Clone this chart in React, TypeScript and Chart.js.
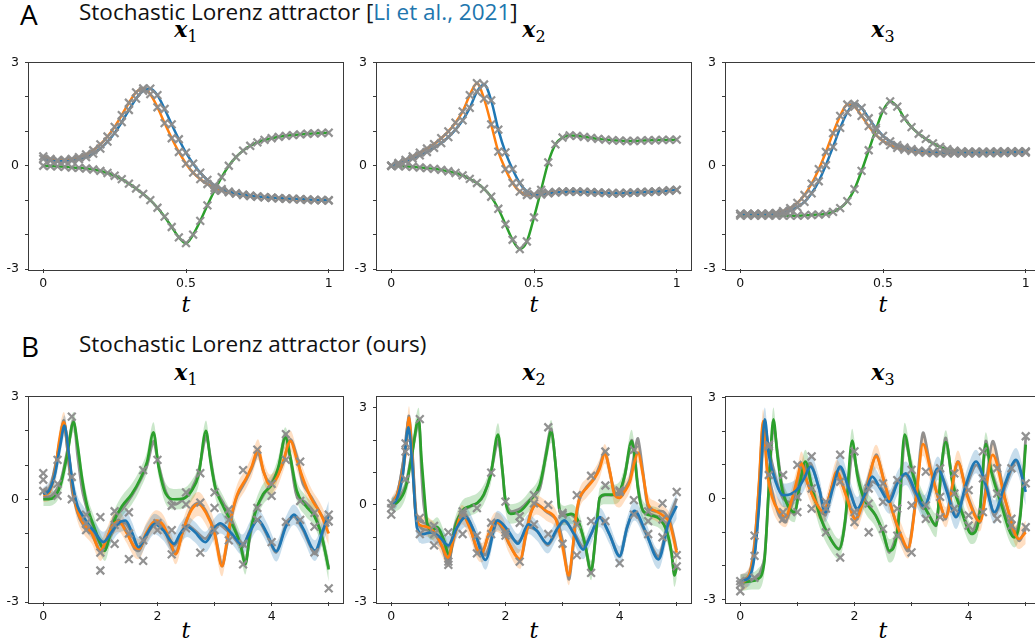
import React, { useEffect, useRef } from 'react';
import { Chart, registerables } from 'chart.js';

Chart.register(...registerables);

const BLUE = '#1f77b4';
const ORANGE = '#ff7f0e';
const GREEN = '#2ca02c';
const BAND: Record<string, string> = {
  [BLUE]: 'rgba(31,119,180,0.25)',
  [ORANGE]: 'rgba(255,127,14,0.25)',
  [GREEN]: 'rgba(44,160,44,0.25)',
};
const GRAY_LINE = 'rgba(128,128,128,0.85)';
const GRAY_MARK = 'rgba(140,140,140,0.95)';
const AXIS = '#3a3a3a';

// ---------- Row A: Li et al., 2021 (t in [0,1]) ----------
const tA = [0, 0.025, 0.05, 0.075, 0.1, 0.125, 0.15, 0.175, 0.2, 0.225, 0.25, 0.275, 0.3, 0.325, 0.35, 0.375, 0.4, 0.425, 0.45, 0.475, 0.5, 0.525, 0.55, 0.575, 0.6, 0.625, 0.65, 0.675, 0.7, 0.725, 0.75, 0.775, 0.8, 0.825, 0.85, 0.875, 0.9, 0.925, 0.95, 0.975, 1];

const A1_blue = [0.2, 0.15, 0.13, 0.13, 0.15, 0.19, 0.25, 0.35, 0.5, 0.7, 0.95, 1.27, 1.62, 1.95, 2.18, 2.24, 2.05, 1.65, 1.2, 0.77, 0.38, 0.06, -0.2, -0.41, -0.57, -0.68, -0.75, -0.8, -0.84, -0.87, -0.89, -0.91, -0.93, -0.94, -0.95, -0.96, -0.97, -0.98, -0.99, -1.0, -1.0];
const A1_orange = [0.27, 0.2, 0.16, 0.17, 0.2, 0.25, 0.33, 0.45, 0.62, 0.85, 1.13, 1.47, 1.83, 2.13, 2.25, 2.08, 1.7, 1.24, 0.8, 0.4, 0.06, -0.2, -0.39, -0.53, -0.64, -0.72, -0.77, -0.81, -0.85, -0.88, -0.9, -0.92, -0.93, -0.95, -0.96, -0.97, -0.98, -0.99, -1.0, -1.0, -1.01];
const A1_green = [0, -0.01, -0.02, -0.03, -0.05, -0.06, -0.08, -0.11, -0.15, -0.21, -0.29, -0.39, -0.52, -0.66, -0.82, -1.0, -1.22, -1.48, -1.78, -2.08, -2.25, -2.0, -1.6, -1.15, -0.72, -0.33, 0.0, 0.25, 0.44, 0.58, 0.68, 0.75, 0.8, 0.84, 0.87, 0.89, 0.91, 0.93, 0.94, 0.95, 0.96];

const A2_blue = [0, 0.06, 0.13, 0.21, 0.3, 0.4, 0.52, 0.66, 0.83, 1.05, 1.32, 1.68, 2.15, 2.36, 1.9, 1.05, 0.39, -0.1, -0.5, -0.75, -0.85, -0.84, -0.8, -0.78, -0.76, -0.75, -0.75, -0.76, -0.77, -0.78, -0.79, -0.8, -0.8, -0.79, -0.78, -0.77, -0.76, -0.75, -0.74, -0.72, -0.7];
const A2_orange = [0, 0.08, 0.17, 0.27, 0.38, 0.5, 0.63, 0.8, 1.0, 1.25, 1.58, 2.05, 2.4, 1.95, 1.2, 0.41, -0.1, -0.5, -0.75, -0.85, -0.83, -0.8, -0.78, -0.76, -0.75, -0.75, -0.75, -0.76, -0.77, -0.78, -0.79, -0.8, -0.8, -0.79, -0.78, -0.77, -0.76, -0.75, -0.74, -0.72, -0.7];
const A2_green = [0, -0.01, -0.02, -0.03, -0.05, -0.07, -0.09, -0.12, -0.16, -0.21, -0.28, -0.38, -0.5, -0.67, -0.9, -1.25, -1.7, -2.15, -2.42, -2.2, -1.5, -0.7, 0.1, 0.62, 0.82, 0.88, 0.87, 0.84, 0.81, 0.78, 0.76, 0.74, 0.73, 0.72, 0.72, 0.73, 0.74, 0.74, 0.75, 0.75, 0.76];

const A3_blue = [-1.4, -1.4, -1.4, -1.4, -1.4, -1.39, -1.36, -1.3, -1.2, -1.05, -0.8, -0.45, 0.02, 0.55, 1.1, 1.55, 1.8, 1.68, 1.38, 1.1, 0.87, 0.71, 0.6, 0.53, 0.48, 0.44, 0.42, 0.4, 0.39, 0.38, 0.38, 0.38, 0.38, 0.38, 0.38, 0.38, 0.38, 0.38, 0.39, 0.39, 0.4];
const A3_orange = [-1.4, -1.4, -1.4, -1.4, -1.39, -1.37, -1.32, -1.23, -1.08, -0.85, -0.52, -0.1, 0.4, 0.95, 1.45, 1.78, 1.72, 1.45, 1.15, 0.9, 0.72, 0.6, 0.52, 0.47, 0.43, 0.4, 0.38, 0.37, 0.36, 0.36, 0.36, 0.36, 0.36, 0.36, 0.36, 0.37, 0.37, 0.37, 0.38, 0.38, 0.38];
const A3_green = [-1.45, -1.45, -1.45, -1.45, -1.45, -1.45, -1.45, -1.45, -1.45, -1.44, -1.43, -1.42, -1.4, -1.34, -1.23, -1.03, -0.68, -0.15, 0.45, 1.05, 1.6, 1.87, 1.72, 1.38, 1.12, 0.93, 0.78, 0.65, 0.55, 0.48, 0.44, 0.42, 0.41, 0.41, 0.41, 0.41, 0.42, 0.42, 0.42, 0.42, 0.42];

// ---------- Row B: ours (t in [0,5]) ----------
// each point: [t, mean, std, true path]
const B1_blue = [[0, 0.15, 0.2, 0.3], [0.1, 0.25, 0.25, 0.2], [0.2, 0.7, 0.3, 0.9], [0.3, 1.6, 0.3, 1.7], [0.37, 2.15, 0.3, 2.2], [0.45, 1.3, 0.3, 1.0], [0.52, 0.4, 0.3, 0.1], [0.6, -0.2, 0.3, -0.3], [0.7, -0.5, 0.3, -0.6], [0.8, -0.75, 0.3, -0.8], [0.9, -0.95, 0.3, -1.0], [1.05, -1.25, 0.3, -1.4], [1.2, -0.95, 0.3, -1.0], [1.3, -0.72, 0.3, -0.75], [1.44, -0.62, 0.3, -0.7], [1.55, -0.95, 0.3, -1.0], [1.67, -1.4, 0.3, -1.45], [1.8, -1.05, 0.3, -1.1], [1.95, -0.72, 0.3, -0.7], [2.1, -0.9, 0.3, -0.85], [2.29, -1.3, 0.3, -1.35], [2.4, -1.0, 0.3, -1.1], [2.52, -0.8, 0.3, -0.75], [2.65, -0.95, 0.3, -0.9], [2.84, -1.25, 0.3, -1.15], [3.0, -0.85, 0.3, -0.8], [3.1, -0.7, 0.3, -0.75], [3.3, -1.0, 0.3, -1.05], [3.49, -1.33, 0.3, -1.4], [3.62, -0.95, 0.3, -0.9], [3.76, -0.6, 0.3, -0.6], [3.92, -1.0, 0.3, -1.05], [4.08, -1.52, 0.3, -1.55], [4.25, -0.8, 0.3, -0.75], [4.39, -0.45, 0.3, -0.5], [4.55, -0.85, 0.3, -0.9], [4.76, -1.5, 0.3, -1.6], [4.9, -0.9, 0.35, -0.95], [5.0, -0.45, 0.4, -0.5]];
const B1_orange = [[0, 0.12, 0.2, 0.2], [0.1, 0.2, 0.25, 0.3], [0.2, 0.75, 0.3, 0.8], [0.28, 1.7, 0.3, 1.6], [0.36, 2.25, 0.3, 2.3], [0.44, 1.4, 0.3, 1.2], [0.52, 0.3, 0.3, 0.2], [0.6, -0.35, 0.3, -0.4], [0.7, -0.7, 0.3, -0.75], [0.85, -1.0, 0.3, -1.0], [1.0, -1.5, 0.3, -1.55], [1.1, -1.2, 0.3, -1.25], [1.2, -0.8, 0.3, -0.8], [1.32, -0.65, 0.3, -0.6], [1.45, -0.95, 0.3, -0.9], [1.6, -1.4, 0.3, -1.45], [1.68, -1.45, 0.3, -1.5], [1.8, -1.0, 0.3, -1.05], [1.98, -0.62, 0.3, -0.7], [2.1, -0.75, 0.3, -0.8], [2.22, -1.2, 0.3, -1.3], [2.32, -1.6, 0.3, -1.6], [2.45, -0.9, 0.3, -0.9], [2.6, -0.3, 0.35, -0.25], [2.72, -0.14, 0.35, -0.1], [2.85, -0.4, 0.35, -0.35], [3.0, -1.0, 0.35, -0.95], [3.13, -1.95, 0.3, -1.95], [3.22, -1.2, 0.3, -1.3], [3.3, -0.45, 0.3, -0.5], [3.4, 0.15, 0.3, 0.1], [3.55, 0.6, 0.3, 0.55], [3.65, 0.95, 0.3, 0.9], [3.76, 1.45, 0.3, 1.35], [3.86, 0.8, 0.3, 0.8], [3.97, 0.42, 0.3, 0.45], [4.1, 0.65, 0.3, 0.7], [4.2, 1.1, 0.3, 1.05], [4.33, 1.7, 0.3, 1.75], [4.45, 1.1, 0.3, 1.2], [4.55, 0.6, 0.3, 0.45], [4.7, 0.0, 0.3, 0.05], [4.85, -0.4, 0.3, -0.4], [5.0, -1.0, 0.35, -0.8]];
const B1_green = [[0, 0.0, 0.2, 0.05], [0.15, 0.02, 0.2, 0.1], [0.3, 0.4, 0.25, 0.5], [0.42, 1.3, 0.3, 1.4], [0.53, 2.25, 0.3, 2.3], [0.6, 1.6, 0.3, 1.3], [0.68, 0.6, 0.3, 0.3], [0.77, -0.2, 0.3, -0.3], [0.9, -0.85, 0.3, -0.9], [1.0, -1.3, 0.3, -1.3], [1.08, -1.5, 0.3, -1.5], [1.16, -1.1, 0.3, -1.0], [1.25, -0.6, 0.3, -0.5], [1.38, -0.2, 0.3, -0.3], [1.55, 0.15, 0.3, 0.1], [1.7, 0.6, 0.3, 0.55], [1.82, 1.1, 0.3, 1.0], [1.93, 1.95, 0.3, 1.7], [2.02, 0.95, 0.3, 1.0], [2.15, 0.15, 0.3, 0.2], [2.3, 0.0, 0.3, -0.15], [2.45, 0.02, 0.3, 0.0], [2.6, 0.25, 0.3, 0.3], [2.72, 0.7, 0.3, 0.8], [2.85, 2.0, 0.3, 1.85], [2.93, 1.1, 0.3, 1.2], [3.02, 0.3, 0.3, 0.3], [3.15, -0.2, 0.3, -0.1], [3.3, -0.7, 0.3, -0.6], [3.45, -1.3, 0.3, -1.3], [3.54, -1.9, 0.3, -1.85], [3.62, -1.0, 0.3, -1.1], [3.72, -0.35, 0.3, -0.3], [3.85, 0.15, 0.3, 0.1], [4.0, 0.42, 0.3, 0.5], [4.12, 0.95, 0.3, 0.9], [4.24, 1.8, 0.3, 1.9], [4.33, 1.2, 0.3, 1.2], [4.44, 0.25, 0.3, 0.1], [4.6, -0.2, 0.3, -0.1], [4.75, -0.5, 0.3, -0.4], [4.88, -1.1, 0.3, -1.1], [5.0, -2.05, 0.35, -2.0]];

const B2_blue = [[0, 0.0, 0.2, 0.05], [0.1, 0.2, 0.25, 0.3], [0.2, 0.9, 0.3, 1.2], [0.3, 2.4, 0.35, 2.6], [0.37, 1.2, 0.35, 1.5], [0.45, -0.7, 0.3, -0.5], [0.55, -0.9, 0.3, -0.75], [0.7, -0.85, 0.3, -0.8], [0.85, -1.0, 0.3, -1.0], [1.0, -1.25, 0.3, -1.3], [1.15, -0.7, 0.3, -0.6], [1.3, -0.38, 0.3, -0.3], [1.47, -0.9, 0.3, -0.9], [1.65, -1.7, 0.3, -1.55], [1.86, -0.48, 0.3, -0.5], [2.05, -0.8, 0.3, -0.9], [2.22, -1.2, 0.3, -1.15], [2.4, -0.6, 0.3, -0.7], [2.55, -0.8, 0.3, -0.8], [2.74, -1.2, 0.3, -1.25], [2.9, -0.75, 0.3, -0.8], [3.03, -0.48, 0.3, -0.5], [3.2, -0.9, 0.3, -0.85], [3.36, -1.38, 0.3, -1.3], [3.5, -0.9, 0.3, -0.9], [3.65, -0.38, 0.3, -0.4], [3.82, -0.9, 0.3, -0.9], [4.0, -1.58, 0.3, -1.6], [4.13, -0.7, 0.3, -0.7], [4.26, -0.18, 0.3, -0.2], [4.45, -0.8, 0.3, -0.85], [4.68, -1.68, 0.3, -1.6], [4.85, -0.6, 0.35, -0.5], [5.0, -0.03, 0.4, 0.2]];
const B2_orange = [[0, 0.0, 0.2, 0.0], [0.1, 0.3, 0.25, 0.3], [0.17, 0.75, 0.3, 0.9], [0.25, 1.6, 0.35, 1.8], [0.31, 2.7, 0.35, 2.75], [0.37, 1.3, 0.35, 1.6], [0.43, -0.3, 0.3, -0.3], [0.5, -0.62, 0.3, -0.5], [0.63, -0.68, 0.3, -0.6], [0.77, -0.88, 0.3, -0.9], [0.89, -1.28, 0.3, -1.3], [0.99, -1.63, 0.3, -1.8], [1.1, -0.98, 0.3, -1.0], [1.24, -0.3, 0.3, -0.2], [1.39, -0.78, 0.3, -0.75], [1.51, -1.38, 0.3, -1.45], [1.59, -1.48, 0.3, -1.5], [1.71, -0.88, 0.3, -0.9], [1.83, -0.53, 0.3, -0.5], [1.95, -0.68, 0.3, -0.75], [2.06, -1.18, 0.3, -1.2], [2.26, -1.68, 0.3, -1.7], [2.35, -0.98, 0.3, -1.0], [2.44, -0.28, 0.3, -0.25], [2.54, 0.0, 0.3, 0.05], [2.71, -0.18, 0.3, -0.2], [2.89, -0.48, 0.3, -0.45], [3.0, -1.28, 0.3, -1.1], [3.11, -2.18, 0.3, -2.3], [3.18, -1.28, 0.3, -1.4], [3.24, -0.28, 0.3, -0.4], [3.3, 0.22, 0.3, 0.2], [3.42, 0.52, 0.3, 0.55], [3.56, 0.82, 0.3, 0.85], [3.65, 1.12, 0.3, 1.2], [3.74, 1.58, 0.3, 1.65], [3.83, 1.02, 0.3, 1.0], [3.91, 0.32, 0.3, 0.4], [4.0, 0.22, 0.3, 0.3], [4.09, 0.42, 0.3, 0.5], [4.18, 0.72, 0.3, 0.8], [4.26, 1.32, 0.3, 1.6], [4.32, 1.62, 0.3, 2.05], [4.41, 0.92, 0.3, 1.0], [4.5, 0.02, 0.3, -0.1], [4.62, -0.18, 0.3, -0.2], [4.76, -0.33, 0.3, -0.2], [4.88, -0.58, 0.3, -0.5], [5.0, -1.48, 0.35, -1.4]];
const B2_green = [[0, 0.0, 0.2, -0.1], [0.1, 0.07, 0.25, 0.1], [0.25, 0.52, 0.3, 0.6], [0.36, 1.52, 0.35, 1.6], [0.48, 2.65, 0.35, 2.6], [0.53, 1.4, 0.35, 1.0], [0.57, 0.52, 0.3, 0.0], [0.63, -0.58, 0.3, -0.6], [0.72, -0.78, 0.3, -0.8], [0.8, -0.68, 0.3, -0.7], [0.92, -1.08, 0.3, -1.1], [1.01, -1.53, 0.3, -1.8], [1.12, -0.68, 0.3, -0.6], [1.24, -0.18, 0.3, -0.2], [1.39, -0.03, 0.3, -0.05], [1.51, 0.07, 0.3, 0.05], [1.62, 0.32, 0.3, 0.3], [1.74, 0.92, 0.3, 0.95], [1.87, 2.17, 0.35, 2.0], [1.95, 1.02, 0.35, 1.0], [2.0, 0.12, 0.3, 0.1], [2.09, -0.28, 0.3, -0.2], [2.27, -0.18, 0.3, -0.1], [2.42, 0.12, 0.3, 0.15], [2.6, 0.62, 0.3, 0.5], [2.71, 1.52, 0.35, 1.6], [2.8, 2.27, 0.35, 2.35], [2.89, 1.02, 0.35, 1.0], [2.95, -0.18, 0.3, -0.2], [3.04, -0.33, 0.3, -0.3], [3.15, -0.28, 0.3, -0.3], [3.27, -0.48, 0.3, -0.5], [3.39, -1.18, 0.3, -1.2], [3.5, -2.03, 0.3, -2.1], [3.59, -0.78, 0.3, -0.8], [3.65, 0.22, 0.3, 0.2], [3.74, 0.32, 0.3, 0.3], [3.88, 0.32, 0.3, 0.3], [4.0, 0.42, 0.3, 0.4], [4.09, 0.92, 0.3, 0.9], [4.21, 1.97, 0.35, 2.0], [4.26, 1.52, 0.35, 1.6], [4.32, 0.52, 0.35, 0.6], [4.41, -0.18, 0.3, -0.2], [4.56, -0.33, 0.3, -0.3], [4.7, -0.43, 0.3, -0.4], [4.82, -0.78, 0.3, -0.8], [4.91, -1.48, 0.35, -1.5], [4.96, -2.18, 0.35, -2.1], [5.0, -1.93, 0.35, -1.9]];

const B3_blue = [[0, -2.45, 0.2, -2.5], [0.15, -2.35, 0.25, -2.3], [0.25, -1.7, 0.3, -1.6], [0.33, -0.2, 0.35, -0.1], [0.43, 2.35, 0.35, 2.1], [0.5, 1.3, 0.35, 1.5], [0.62, 0.5, 0.35, 0.6], [0.75, 0.1, 0.35, 0.0], [0.88, 0.13, 0.35, -0.1], [1.0, 0.27, 0.35, 0.3], [1.12, 0.6, 0.35, 0.8], [1.23, 0.95, 0.35, 1.05], [1.38, 0.3, 0.35, 0.3], [1.49, -0.4, 0.3, -0.5], [1.62, 0.3, 0.35, 0.4], [1.75, 0.95, 0.35, 0.9], [1.9, 0.3, 0.35, 0.35], [2.05, -0.3, 0.35, -0.35], [2.19, 0.15, 0.35, 0.1], [2.31, 0.65, 0.35, 0.5], [2.45, 0.3, 0.35, 0.35], [2.61, -0.1, 0.35, 0.0], [2.75, 0.45, 0.35, 0.5], [2.9, 0.75, 0.35, 0.7], [3.07, 0.2, 0.35, 0.1], [3.22, -0.25, 0.35, -0.3], [3.46, 0.9, 0.35, 0.85], [3.62, 0.2, 0.35, 0.3], [3.78, -0.55, 0.35, -0.5], [3.95, 0.4, 0.35, 0.3], [4.13, 1.1, 0.35, 1.0], [4.3, 0.4, 0.35, 0.5], [4.45, -0.4, 0.35, -0.5], [4.65, 0.5, 0.35, 0.4], [4.83, 1.15, 0.35, 1.1], [5.0, 0.2, 0.4, 0.3]];
const B3_orange = [[0, -2.5, 0.25, -2.45], [0.15, -2.3, 0.25, -2.3], [0.25, -1.4, 0.3, -1.3], [0.33, 0.5, 0.35, 0.4], [0.4, 2.3, 0.35, 2.2], [0.47, 0.8, 0.35, 1.0], [0.56, 0.03, 0.35, 0.2], [0.68, -0.38, 0.35, -0.5], [0.79, -0.55, 0.3, -0.7], [0.9, -0.05, 0.35, -0.2], [1.0, 0.6, 0.35, 0.5], [1.07, 1.05, 0.35, 1.0], [1.17, 0.5, 0.35, 0.5], [1.32, -0.1, 0.35, -0.1], [1.46, -0.4, 0.3, -0.45], [1.58, 0.2, 0.35, 0.2], [1.69, 0.8, 0.35, 0.7], [1.85, 0.1, 0.35, 0.15], [2.02, -0.62, 0.3, -0.6], [2.2, 0.2, 0.35, 0.3], [2.38, 1.25, 0.35, 1.3], [2.52, 0.5, 0.35, 0.5], [2.67, -0.4, 0.35, -0.4], [2.82, -1.1, 0.35, -1.2], [2.94, -1.48, 0.3, -1.55], [3.08, 0.0, 0.35, 0.1], [3.2, 1.62, 0.35, 1.95], [3.34, 0.8, 0.35, 0.85], [3.49, -0.1, 0.35, -0.1], [3.6, -0.55, 0.3, -0.6], [3.81, 1.08, 0.35, 1.1], [3.98, 0.05, 0.35, 0.1], [4.2, -0.68, 0.3, -0.7], [4.42, 1.3, 0.35, 1.7], [4.65, -0.1, 0.35, -0.1], [4.88, -1.2, 0.3, -1.25], [5.0, -1.0, 0.35, -0.9]];
const B3_green = [[0, -2.5, 0.25, -2.45], [0.2, -2.45, 0.25, -2.4], [0.3, -2.4, 0.3, -2.35], [0.42, -1.9, 0.35, -1.8], [0.5, 0.3, 0.35, 0.3], [0.58, 2.35, 0.35, 2.2], [0.65, 1.3, 0.35, 1.4], [0.73, 0.3, 0.35, 0.4], [0.85, -0.25, 0.35, -0.3], [0.95, -0.4, 0.3, -0.45], [1.06, 0.6, 0.35, 0.5], [1.14, 1.1, 0.35, 1.0], [1.26, 0.3, 0.35, 0.35], [1.4, -0.55, 0.35, -0.5], [1.55, -1.1, 0.35, -1.1], [1.73, -1.5, 0.3, -1.5], [1.84, -0.6, 0.35, -0.7], [1.96, 1.72, 0.35, 1.4], [2.05, 0.7, 0.35, 0.8], [2.16, 0.03, 0.35, 0.0], [2.37, -0.5, 0.35, -0.5], [2.5, -1.0, 0.35, -1.0], [2.61, -1.55, 0.35, -1.6], [2.76, -0.85, 0.35, -0.9], [2.88, 1.9, 0.35, 1.8], [2.99, 0.95, 0.35, 1.0], [3.14, 0.08, 0.35, 0.1], [3.31, -0.5, 0.35, -0.5], [3.43, -0.8, 0.35, -0.8], [3.52, 0.9, 0.35, 0.8], [3.6, 1.68, 0.35, 1.8], [3.72, 0.45, 0.35, 0.5], [3.9, -0.5, 0.35, -0.45], [4.05, -1.05, 0.3, -1.0], [4.19, -0.5, 0.35, -0.4], [4.3, 1.62, 0.35, 1.7], [4.39, 0.85, 0.35, 0.9], [4.54, 0.0, 0.35, 0.1], [4.8, -1.15, 0.3, -1.1], [4.9, -0.6, 0.35, -0.5], [5.0, 1.6, 0.4, 1.8]];

// observation times and noisy observations (gray crosses)
const obsT = [0, 0.25, 0.5, 0.75, 1, 1.25, 1.5, 1.75, 2, 2.25, 2.5, 2.75, 3, 3.25, 3.5, 3.75, 4, 4.25, 4.5, 4.75, 5];
const B1_obs1 = [0.76, 1.15, 2.41, -0.7, -0.52, -0.35, -0.38, 0.85, 1.15, -0.19, 0.2, 0.76, 0.2, -0.3, 0.85, 1.45, 0.45, 1.9, 1.1, -0.4, -0.45];
const B1_obs2 = [0.57, 0.45, 0.65, -0.45, -1.56, -0.75, -1.0, -1.2, -0.7, -0.9, -0.15, -0.1, -0.25, -0.6, -1.3, -0.25, 0.1, 1.15, -0.05, -0.8, -0.65];
const B1_obs3 = [0.24, 0.1, 0.0, -0.9, -2.08, -1.3, -1.75, -1.8, -0.9, -1.61, -0.85, -1.56, -0.9, -1.2, -1.9, -0.6, -1.25, -0.66, -0.6, -1.55, -2.6];
const B2_obs1 = [0.05, 1.9, 2.65, -0.65, -0.85, -0.2, -0.1, 1.0, 0.1, -0.55, 0.3, 2.4, -0.3, 0.3, 0.9, 1.65, 0.4, 1.7, -0.2, 0.05, 0.4];
const B2_obs2 = [-0.3, 1.65, -0.4, -1.25, -1.85, -0.3, -1.5, -0.55, -0.85, -1.75, 0.05, 0.0, -1.2, -1.55, -2.1, 0.6, -1.8, 0.15, -0.9, -1.0, -1.55];
const B2_obs3 = [-0.1, 0.8, -0.9, -0.9, -1.75, -0.9, -0.95, -0.9, -0.95, -0.35, -0.6, -0.9, -0.25, -0.6, -0.5, -0.5, 0.45, -0.3, -0.5, -0.45, -1.9];
const B3_obs1 = [-2.45, -1.1, 1.6, 0.7, 1.0, 1.25, -1.0, 1.3, 1.4, -0.15, 0.45, 0.55, 0.85, 0.8, 0.05, 0.75, 0.25, 1.4, 0.9, 0.9, 1.85];
const B3_obs2 = [-2.75, -1.7, 0.7, -0.4, -0.4, 0.3, -0.1, -1.75, -0.4, -1.0, -0.9, -1.1, -1.6, -0.6, -0.55, 0.15, -0.8, -0.4, 0.15, -0.6, 0.45];
const B3_obs3 = [-2.55, -2.35, 1.55, -0.6, 0.05, -0.3, -0.3, 0.5, -0.7, 0.3, -0.1, -0.3, -0.2, -0.2, 0.9, -0.3, -0.5, 0.6, -0.6, -0.8, -0.85];

// ticks
const yTicks = [-3, -2, -1, 0, 1, 2, 3];
const yLabels = [-3, 0, 3];
const xTicksA = [0, 0.5, 1];
const xLabelsA = [0, 0.5, 1];
const xTicksB = [0, 1, 2, 3, 4, 5];
const xLabelsB = [0, 2, 4];

// ---------- layout ----------
const COLS = [29, 377, 726];
const PW = 314;
const ROW_A = { top: 57, h: 212 };
const ROW_B = { top: 391, h: 211 };
const Y_LEFT = 30;
const PAD_T = 8;
const PAD_R = 8;
const X_H = 24;

const framePlugin = {
  id: 'frame',
  afterDraw(chart: any) {
    const { ctx, chartArea: a } = chart;
    ctx.save();
    ctx.strokeStyle = AXIS;
    ctx.lineWidth = 1;
    ctx.strokeRect(Math.round(a.left) - 0.5, Math.round(a.top) - 0.5, Math.round(a.right - a.left) + 1, Math.round(a.bottom - a.top) + 1);
    ctx.restore();
  },
};

const tickFont = { family: '"DejaVu Sans", sans-serif', size: 12.5 };

function makeOptions(xr: number[], yr: number[], xTicks: number[], xLabels: number[]) {
  return {
    responsive: false,
    animation: false,
    events: [],
    layout: { padding: { top: PAD_T, right: PAD_R, left: 0, bottom: 0 }, autoPadding: false },
    plugins: { legend: { display: false }, tooltip: { enabled: false }, title: { display: false } },
    elements: { point: { hitRadius: 0 } },
    scales: {
      x: {
        type: 'linear',
        min: xr[0],
        max: xr[1],
        afterBuildTicks: (s: any) => { s.ticks = xTicks.map((v) => ({ value: v })); },
        afterFit: (s: any) => { s.height = X_H; },
        ticks: {
          autoSkip: false, maxRotation: 0, padding: 3, color: '#111', font: tickFont,
          callback: (v: number) => (xLabels.includes(v) ? String(v) : ''),
        },
        grid: { display: true, drawOnChartArea: false, drawTicks: true, tickLength: 4, color: AXIS, lineWidth: 1 },
        border: { display: false },
      },
      y: {
        type: 'linear',
        min: yr[0],
        max: yr[1],
        afterBuildTicks: (s: any) => { s.ticks = yTicks.map((v) => ({ value: v })); },
        afterFit: (s: any) => { s.width = Y_LEFT; },
        ticks: {
          autoSkip: false, padding: 6, color: '#111', font: tickFont,
          callback: (v: number) => (yLabels.includes(v) ? String(v) : ''),
        },
        grid: { display: true, drawOnChartArea: false, drawTicks: true, tickLength: 4, color: AXIS, lineWidth: 1 },
        border: { display: false },
      },
    },
  };
}

const markerStyle = {
  showLine: false, pointStyle: 'crossRot', pointRadius: 5.5, pointBorderWidth: 2.2,
  pointBorderColor: GRAY_MARK, pointBackgroundColor: 'rgba(0,0,0,0)', borderColor: GRAY_MARK,
  order: 0,
};

function rowADatasets(series: [number[], string][]) {
  const ds: any[] = [];
  series.forEach(([ys, color]) => {
    ds.push({
      data: tA.map((t, i) => ({ x: t, y: ys[i] })),
      borderColor: color, borderWidth: 2.5, pointRadius: 0, fill: false,
      cubicInterpolationMode: 'monotone', order: 2,
    });
  });
  series.forEach(([ys]) => {
    ds.push({ data: tA.map((t, i) => ({ x: t, y: ys[i] })), ...markerStyle });
  });
  return ds;
}

function rowBDatasets(series: [number[][], string][], obs: number[][]) {
  const ds: any[] = [];
  series.forEach(([pts, color]) => {
    ds.push({
      data: pts.map((p) => ({ x: p[0], y: p[1] + p[2] })),
      borderWidth: 0, pointRadius: 0, fill: '+1', backgroundColor: BAND[color],
      cubicInterpolationMode: 'monotone', order: 4,
    });
    ds.push({
      data: pts.map((p) => ({ x: p[0], y: p[1] - p[2] })),
      borderWidth: 0, pointRadius: 0, fill: false,
      cubicInterpolationMode: 'monotone', order: 4,
    });
  });
  series.forEach(([pts]) => {
    ds.push({
      data: pts.map((p) => ({ x: p[0], y: p[3] })),
      borderColor: GRAY_LINE, borderWidth: 2.8, pointRadius: 0, fill: false,
      tension: 0.25, order: 3,
    });
  });
  series.forEach(([pts, color]) => {
    ds.push({
      data: pts.map((p) => ({ x: p[0], y: p[1] })),
      borderColor: color, borderWidth: 2.7, pointRadius: 0, fill: false,
      cubicInterpolationMode: 'monotone', order: 2,
    });
  });
  obs.forEach((ys) => {
    ds.push({ data: obsT.map((t, i) => ({ x: t, y: ys[i] })), ...markerStyle });
  });
  return ds;
}

type PanelSpec = { left: number; top: number; h: number; datasets: () => any[]; xr: number[]; yr: number[]; xTicks: number[]; xLabels: number[] };

function Panel({ spec }: { spec: PanelSpec }) {
  const ref = useRef<HTMLCanvasElement>(null);
  const w = PW + Y_LEFT + PAD_R;
  const h = spec.h + PAD_T + X_H;
  useEffect(() => {
    const chart = new Chart(ref.current as HTMLCanvasElement, {
      type: 'line',
      data: { datasets: spec.datasets() },
      options: makeOptions(spec.xr, spec.yr, spec.xTicks, spec.xLabels) as any,
      plugins: [framePlugin],
    });
    return () => chart.destroy();
  }, []);
  return (
    <canvas
      ref={ref}
      width={w}
      height={h}
      style={{ position: 'absolute', left: spec.left - Y_LEFT, top: spec.top - PAD_T, width: w, height: h }}
    />
  );
}

const panels: PanelSpec[] = [
  { left: COLS[0], top: ROW_A.top, h: ROW_A.h, xr: [-0.05, 1.05], yr: [-3, 3], xTicks: xTicksA, xLabels: xLabelsA,
    datasets: () => rowADatasets([[A1_blue, BLUE], [A1_orange, ORANGE], [A1_green, GREEN]]) },
  { left: COLS[1], top: ROW_A.top, h: ROW_A.h, xr: [-0.05, 1.05], yr: [-3, 3], xTicks: xTicksA, xLabels: xLabelsA,
    datasets: () => rowADatasets([[A2_blue, BLUE], [A2_orange, ORANGE], [A2_green, GREEN]]) },
  { left: COLS[2], top: ROW_A.top, h: ROW_A.h, xr: [-0.05, 1.05], yr: [-3, 3], xTicks: xTicksA, xLabels: xLabelsA,
    datasets: () => rowADatasets([[A3_blue, BLUE], [A3_orange, ORANGE], [A3_green, GREEN]]) },
  { left: COLS[0], top: ROW_B.top, h: ROW_B.h, xr: [-0.25, 5.25], yr: [-3, 3], xTicks: xTicksB, xLabels: xLabelsB,
    datasets: () => rowBDatasets([[B1_blue, BLUE], [B1_orange, ORANGE], [B1_green, GREEN]], [B1_obs1, B1_obs2, B1_obs3]) },
  { left: COLS[1], top: ROW_B.top, h: ROW_B.h, xr: [-0.25, 5.25], yr: [-3, 3.35], xTicks: xTicksB, xLabels: xLabelsB,
    datasets: () => rowBDatasets([[B2_blue, BLUE], [B2_orange, ORANGE], [B2_green, GREEN]], [B2_obs1, B2_obs2, B2_obs3]) },
  { left: COLS[2], top: ROW_B.top, h: ROW_B.h, xr: [-0.25, 5.25], yr: [-3.07, 3.03], xTicks: xTicksB, xLabels: xLabelsB,
    datasets: () => rowBDatasets([[B3_blue, BLUE], [B3_orange, ORANGE], [B3_green, GREEN]], [B3_obs1, B3_obs2, B3_obs3]) },
];

const headFont = '"Open Sans", "Noto Sans", sans-serif';
const mathFont = '"DejaVu Serif", serif';

function VarTitle({ cx, top, sub }: { cx: number; top: number; sub: string }) {
  return (
    <div style={{ position: 'absolute', left: cx, top, transform: 'translateX(-50%)', fontFamily: mathFont, fontSize: 22, lineHeight: 1, whiteSpace: 'nowrap', color: '#000' }}>
      <span style={{ fontWeight: 'bold', fontStyle: 'italic' }}>x</span>
      <span style={{ fontSize: 16, position: 'relative', top: 5 }}>{sub}</span>
    </div>
  );
}

function TLabel({ cx, top }: { cx: number; top: number }) {
  return (
    <div style={{ position: 'absolute', left: cx, top, transform: 'translateX(-50%)', fontFamily: mathFont, fontStyle: 'italic', fontSize: 22, lineHeight: 1, color: '#000' }}>t</div>
  );
}

export default function App() {
  const centers = COLS.map((c) => c + PW / 2);
  return (
    <div style={{ position: 'fixed', left: 0, top: 0, width: 1035, height: 644, overflow: 'hidden', background: '#fff' }}>
      <div style={{ position: 'absolute', left: 20, top: 0, fontFamily: headFont, fontSize: 28, lineHeight: 1, color: '#000' }}>A</div>
      <div style={{ position: 'absolute', left: 79, top: 1, fontFamily: headFont, fontSize: 22.5, lineHeight: 1, color: '#111', whiteSpace: 'nowrap' }}>
        Stochastic Lorenz attractor [<span style={{ color: '#2176ae' }}>Li et al., 2021</span>]
      </div>
      <div style={{ position: 'absolute', left: 21, top: 332, fontFamily: headFont, fontSize: 28, lineHeight: 1, color: '#000' }}>B</div>
      <div style={{ position: 'absolute', left: 79, top: 333, fontFamily: headFont, fontSize: 22.5, lineHeight: 1, color: '#111', whiteSpace: 'nowrap' }}>
        Stochastic Lorenz attractor (ours)
      </div>
      {['1', '2', '3'].map((s, i) => (
        <VarTitle key={'a' + s} cx={centers[i]} top={18} sub={s} />
      ))}
      {['1', '2', '3'].map((s, i) => (
        <VarTitle key={'b' + s} cx={centers[i]} top={361} sub={s} />
      ))}
      {centers.map((c, i) => (
        <TLabel key={'ta' + i} cx={c} top={294} />
      ))}
      {centers.map((c, i) => (
        <TLabel key={'tb' + i} cx={c} top={620} />
      ))}
      {panels.map((p, i) => (
        <Panel key={i} spec={p} />
      ))}
    </div>
  );
}
